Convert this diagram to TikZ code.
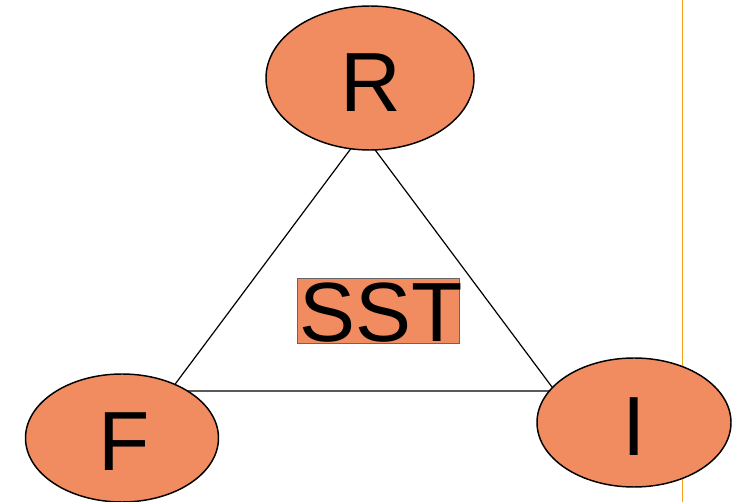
\documentclass[tikz,border=0pt]{standalone}
\usepackage{fontspec}
\setmainfont{Liberation Sans}
\usetikzlibrary{shapes.geometric}
\definecolor{fillor}{RGB}{240,140,95}
\definecolor{lineor}{RGB}{247,162,28}
\tikzset{
  oval/.style={ellipse, draw=black, line width=1.1pt, fill=fillor, inner sep=0pt},
  bigtxt/.style={font=\fontsize{63}{63}\selectfont, inner sep=0pt, text=black},
  edge/.style={draw=black, line width=0.9pt}
}
\begin{document}
\begin{tikzpicture}[x=0.75pt, y=-0.75pt]
\useasboundingbox (0,0) rectangle (733,502);
% orange vertical line
\coordinate (vt) at (682.5,0);
\coordinate (vb) at (682.5,502);
\draw[lineor, line width=1.2pt] (vt) -- (vb);
% triangle vertices
\coordinate (ta) at (362.5,133);
\coordinate (tl) at (170,391);
\coordinate (tr) at (555,391);
\draw[edge] (ta) -- (tl) -- (tr) -- cycle;
% ellipses
\node[oval, minimum width=156pt, minimum height=108pt] (R) at (370,78) {};
\node[oval, minimum width=144.75pt, minimum height=96pt] (F) at (122,438) {};
\node[oval, minimum width=145.5pt, minimum height=96.75pt] (I) at (634,422.5) {};
\node[bigtxt, anchor=base] (Rt) at (371,112) {R};
\node[bigtxt, anchor=base] (Ft) at (124,471) {F};
\node[bigtxt, anchor=base] (It) at (634,456) {I};
% SST box
\node[draw=black!60, fill=fillor, line width=0.7pt, minimum width=121.5pt, minimum height=48.75pt, inner sep=0pt] (box) at (378,310.5) {};
\node[bigtxt, anchor=base] (sst) at (381,342) {SST};
\end{tikzpicture}
\end{document}
